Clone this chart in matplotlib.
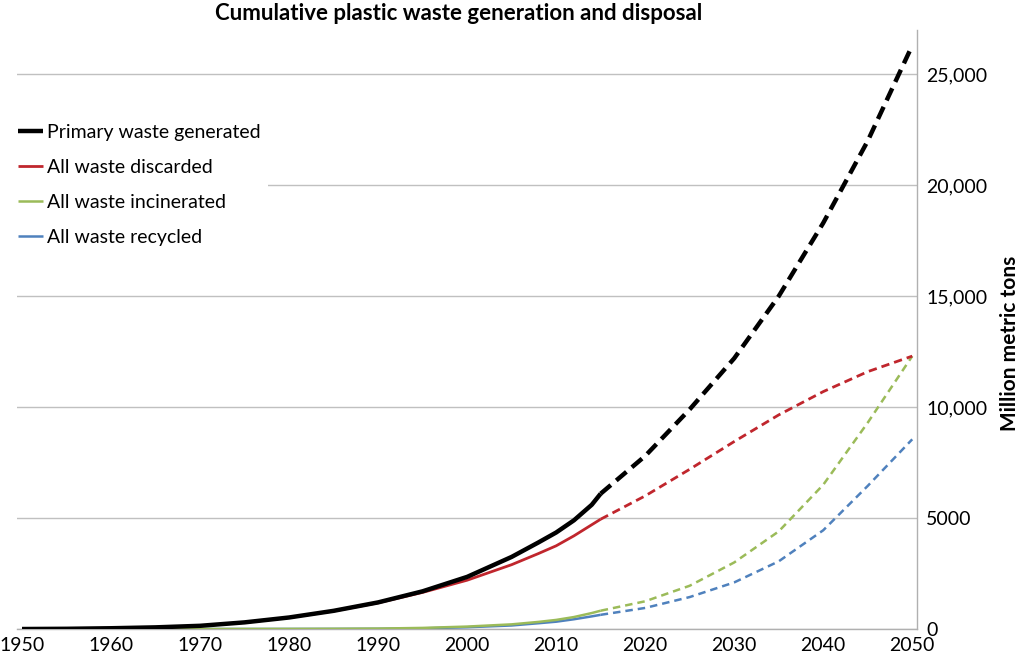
import matplotlib
matplotlib.use("Agg")
import matplotlib.pyplot as plt
from matplotlib.ticker import FixedLocator

plt.rcParams['font.family'] = ['Lato', 'DejaVu Sans']

# historic series, 1950-2015 (solid)
years_hist = [1950, 1955, 1960, 1965, 1970, 1975, 1980, 1985, 1990, 1995, 2000, 2005,
              2008, 2010, 2012, 2014, 2015]
generated_hist = [0, 10, 35, 75, 145, 300, 520, 820, 1200, 1700, 2350, 3250,
                  3900, 4350, 4900, 5600, 6100]
discarded_hist = [0, 10, 35, 75, 140, 295, 515, 810, 1180, 1650, 2200, 2900,
                  3400, 3750, 4200, 4700, 4950]
incinerated_hist = [0, 0, 0, 0, 1, 2, 5, 10, 20, 50, 110, 210,
                    320, 410, 540, 720, 825]
recycled_hist = [0, 0, 0, 0, 0, 1, 3, 6, 10, 30, 80, 160,
                 260, 330, 440, 570, 640]

# projections, 2015-2050 (dashed)
years_proj = [2015, 2020, 2025, 2030, 2035, 2040, 2045, 2050]
generated_proj = [6100, 7800, 9900, 12200, 15000, 18300, 22000, 26300]
discarded_proj = [4950, 6000, 7200, 8450, 9650, 10700, 11600, 12300]
incinerated_proj = [825, 1250, 1950, 3000, 4400, 6500, 9300, 12300]
recycled_proj = [640, 950, 1440, 2100, 3050, 4450, 6450, 8550]

labels = ['Primary waste generated', 'All waste discarded',
          'All waste incinerated', 'All waste recycled']
colors = ['#000000', '#c0262d', '#9bbb59', '#4f81bd']
widths = [3.2, 2.0, 1.8, 1.8]
dashes = [(3.0, 1.6), (3.0, 1.8), (3.0, 2.0), (3.0, 2.0)]

y_ticks = [0, 5000, 10000, 15000, 20000, 25000]
y_ticklabels = ['0', '5000', '10,000', '15,000', '20,000', '25,000']
x_ticks = list(range(1950, 2051, 10))

fig = plt.figure(figsize=(10.24, 6.59), dpi=100)
ax = fig.add_axes([0.0163, 0.0455, 0.8789, 0.909])

hist = [generated_hist, discarded_hist, incinerated_hist, recycled_hist]
proj = [generated_proj, discarded_proj, incinerated_proj, recycled_proj]

# draw back to front so black ends up on top
for i in reversed(range(4)):
    ax.plot(years_hist, hist[i], color=colors[i], lw=widths[i], label=labels[i],
            solid_capstyle='butt', solid_joinstyle='round', zorder=3 + (3 - i))
    ax.plot(years_proj, proj[i], color=colors[i], lw=widths[i],
            linestyle=(0, dashes[i]), dash_capstyle='butt', zorder=3 + (3 - i))

ax.set_xlim(1949.4, 2050.5)
ax.set_ylim(0, 27000)

ax.yaxis.tick_right()
ax.yaxis.set_major_locator(FixedLocator(y_ticks))
ax.set_yticklabels(y_ticklabels)
ax.set_xticks(x_ticks)
ax.tick_params(axis='both', length=0, labelsize=14, colors='#000000')
ax.tick_params(axis='y', pad=7)
ax.tick_params(axis='x', pad=6)

ax.grid(axis='y', color='#c0c0c0', lw=1.0, zorder=0)
ax.set_axisbelow(True)
for side in ['left', 'top']:
    ax.spines[side].set_visible(False)
for side in ['right', 'bottom']:
    ax.spines[side].set_color('#b0b0b0')
    ax.spines[side].set_linewidth(1.0)

# axis title on the right
fig.text(1010 / 1024, 316 / 659, 'Million metric tons', rotation=90,
         ha='center', va='center', fontsize=15, fontweight='bold')

fig.text(0.448, 0.979, 'Cumulative plastic waste generation and disposal',
         ha='center', va='center', fontsize=16, fontweight='bold')

handles, lbls = ax.get_legend_handles_labels()
order = [lbls.index(l) for l in labels]
leg = ax.legend([handles[k] for k in order], [lbls[k] for k in order],
                loc='upper left', bbox_to_anchor=(0.0, 0.838),
                bbox_transform=fig.transFigure, fontsize=14,
                handlelength=1.3, handletextpad=0.2, labelspacing=0.92,
                frameon=True, fancybox=False, borderpad=0.4)
leg.get_frame().set_facecolor('white')
leg.get_frame().set_edgecolor('none')
leg.get_frame().set_alpha(1)
leg.set_zorder(10)

fig.savefig('out.png', dpi=100)
